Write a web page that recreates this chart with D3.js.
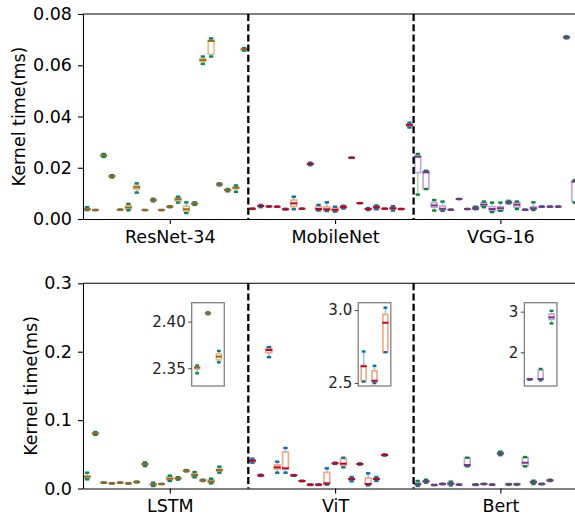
<!DOCTYPE html>
<html>
<head>
<meta charset="utf-8">
<script src="https://cdn.jsdelivr.net/npm/d3@7"></script>
<style>
  body { margin: 0; background: #fff; }
  svg { display: block; font-family: "DejaVu Sans", sans-serif; }
</style>
</head>
<body>
<div id="chart"></div>
<script>
//Datos: [bigote inf, q1, mediana, q3, bigote sup] por kernel
const topLabels = ['ResNet-34', 'MobileNet', 'VGG-16'];
const bottomLabels = ['LSTM', 'ViT', 'Bert'];
const topTicks = [0, 0.02, 0.04, 0.06, 0.08];
const bottomTicks = [0, 0.1, 0.2, 0.3];

const resnet = [
  [0.0035, 0.0036, 0.0038, 0.0041, 0.0046], [0.0035, 0.0035, 0.0035, 0.0035, 0.0035],
  [0.0242, 0.0245, 0.0248, 0.0250, 0.0254], [0.0162, 0.0165, 0.0167, 0.0168, 0.0171],
  [0.0036, 0.0036, 0.0036, 0.0036, 0.0036], [0.0034, 0.0040, 0.0045, 0.0052, 0.0059],
  [0.0103, 0.0116, 0.0124, 0.0131, 0.0139], [0.0035, 0.0035, 0.0035, 0.0035, 0.0035],
  [0.0069, 0.0072, 0.0074, 0.0076, 0.0079], [0.0035, 0.0035, 0.0035, 0.0035, 0.0035],
  [0.0046, 0.0047, 0.0048, 0.0049, 0.0050], [0.0064, 0.0070, 0.0077, 0.0083, 0.0087],
  [0.0023, 0.0030, 0.0038, 0.0050, 0.0065], [0.0055, 0.0058, 0.0060, 0.0062, 0.0065],
  [0.0605, 0.0614, 0.0620, 0.0625, 0.0634], [0.0634, 0.0643, 0.0695, 0.0698, 0.0705],
  [0.0131, 0.0133, 0.0135, 0.0137, 0.0139], [0.0108, 0.0111, 0.0113, 0.0115, 0.0117],
  [0.0106, 0.0118, 0.0122, 0.0125, 0.0131], [0.0657, 0.0660, 0.0662, 0.0664, 0.0667]
];
const mobilenet = [
  [0.0039, 0.0040, 0.0040, 0.0040, 0.0041], [0.0046, 0.0049, 0.0051, 0.0052, 0.0055],
  [0.0049, 0.0049, 0.0049, 0.0049, 0.0049], [0.0048, 0.0048, 0.0048, 0.0048, 0.0048],
  [0.0037, 0.0038, 0.0038, 0.0039, 0.0040], [0.0038, 0.0048, 0.0061, 0.0074, 0.0087],
  [0.0040, 0.0040, 0.0040, 0.0040, 0.0040], [0.0210, 0.0213, 0.0215, 0.0217, 0.0220],
  [0.0033, 0.0035, 0.0039, 0.0048, 0.0055], [0.0031, 0.0033, 0.0038, 0.0048, 0.0065],
  [0.0029, 0.0030, 0.0036, 0.0043, 0.0048], [0.0041, 0.0042, 0.0047, 0.0051, 0.0052],
  [0.0239, 0.0239, 0.0239, 0.0239, 0.0239], [0.0062, 0.0062, 0.0062, 0.0062, 0.0062],
  [0.0035, 0.0037, 0.0039, 0.0041, 0.0043], [0.0038, 0.0039, 0.0046, 0.0051, 0.0053],
  [0.0040, 0.0040, 0.0040, 0.0040, 0.0040], [0.0033, 0.0038, 0.0042, 0.0045, 0.0050],
  [0.0039, 0.0039, 0.0039, 0.0039, 0.0039], [0.0357, 0.0362, 0.0367, 0.0371, 0.0376]
];
const vgg = [
  [0.0095, 0.0181, 0.0243, 0.0246, 0.0254], [0.0117, 0.0117, 0.0182, 0.0187, 0.0188],
  [0.0033, 0.0046, 0.0053, 0.0064, 0.0074], [0.0032, 0.0035, 0.0040, 0.0051, 0.0068],
  [0.0036, 0.0036, 0.0036, 0.0036, 0.0036], [0.0078, 0.0078, 0.0078, 0.0078, 0.0078],
  [0.0039, 0.0039, 0.0039, 0.0039, 0.0039], [0.0038, 0.0038, 0.0042, 0.0048, 0.0048],
  [0.0046, 0.0049, 0.0056, 0.0064, 0.0068], [0.0027, 0.0032, 0.0039, 0.0048, 0.0064],
  [0.0032, 0.0032, 0.0042, 0.0048, 0.0064], [0.0061, 0.0061, 0.0065, 0.0069, 0.0071],
  [0.0039, 0.0046, 0.0056, 0.0064, 0.0068], [0.0036, 0.0036, 0.0036, 0.0036, 0.0036],
  [0.0035, 0.0038, 0.0042, 0.0048, 0.0065], [0.0048, 0.0048, 0.0048, 0.0048, 0.0048],
  [0.0048, 0.0048, 0.0048, 0.0048, 0.0048], [0.0048, 0.0048, 0.0048, 0.0048, 0.0048],
  [0.0705, 0.0707, 0.0709, 0.0711, 0.0713], [0.0064, 0.0068, 0.0146, 0.0146, 0.0152]
];

const lstm = [
  [0.0134, 0.0148, 0.0173, 0.0183, 0.0231], [0.0785, 0.0795, 0.0806, 0.0815, 0.0826],
  [0.0085, 0.0085, 0.0085, 0.0085, 0.0085], [0.0075, 0.0075, 0.0075, 0.0075, 0.0075],
  [0.0085, 0.0085, 0.0085, 0.0085, 0.0085], [0.0075, 0.0075, 0.0075, 0.0075, 0.0075],
  [0.0088, 0.0092, 0.0095, 0.0098, 0.0102], [0.0327, 0.0345, 0.0358, 0.0368, 0.0382],
  [0.0036, 0.0051, 0.0061, 0.0068, 0.0085], [0.0066, 0.0066, 0.0066, 0.0066, 0.0066],
  [0.0110, 0.0124, 0.0144, 0.0173, 0.0187], [0.0130, 0.0140, 0.0148, 0.0156, 0.0165],
  [0.0250, 0.0255, 0.0260, 0.0265, 0.0270], [0.0163, 0.0173, 0.0197, 0.0221, 0.0241],
  [0.0110, 0.0115, 0.0119, 0.0123, 0.0128], [0.0075, 0.0085, 0.0105, 0.0134, 0.0144],
  [0.0231, 0.0255, 0.0270, 0.0285, 0.0319]
];
const vit = [
  [0.0378, 0.0393, 0.0407, 0.0417, 0.0436], [0.0182, 0.0187, 0.0192, 0.0197, 0.0202],
  [0.1920, 0.1985, 0.2024, 0.2052, 0.2067], [0.0231, 0.0285, 0.0309, 0.0343, 0.0392],
  [0.0231, 0.0290, 0.0295, 0.0533, 0.0592], [0.0187, 0.0190, 0.0192, 0.0195, 0.0197],
  [0.0105, 0.0108, 0.0110, 0.0112, 0.0115], [0.0051, 0.0054, 0.0056, 0.0058, 0.0061],
  [0.0051, 0.0054, 0.0056, 0.0058, 0.0061], [0.0056, 0.0066, 0.0075, 0.0236, 0.0295],
  [0.0358, 0.0363, 0.0368, 0.0373, 0.0378], [0.0309, 0.0338, 0.0363, 0.0436, 0.0450],
  [0.0105, 0.0125, 0.0139, 0.0148, 0.0168], [0.0348, 0.0353, 0.0358, 0.0363, 0.0368],
  [0.0046, 0.0056, 0.0066, 0.0153, 0.0222], [0.0110, 0.0130, 0.0139, 0.0150, 0.0168],
  [0.0480, 0.0485, 0.0490, 0.0495, 0.0500]
];
const bert = [
  [0.0037, 0.0051, 0.0066, 0.0080, 0.0110], [0.0085, 0.0095, 0.0105, 0.0114, 0.0129],
  [0.0051, 0.0051, 0.0051, 0.0051, 0.0051], [0.0061, 0.0063, 0.0066, 0.0069, 0.0071],
  [0.0046, 0.0061, 0.0071, 0.0085, 0.0100], [0.0056, 0.0056, 0.0056, 0.0056, 0.0056],
  [0.0324, 0.0329, 0.0343, 0.0446, 0.0451], [0.0051, 0.0054, 0.0056, 0.0058, 0.0061],
  [0.0063, 0.0065, 0.0066, 0.0068, 0.0070], [0.0056, 0.0056, 0.0056, 0.0056, 0.0056],
  [0.0487, 0.0500, 0.0514, 0.0527, 0.0539], [0.0056, 0.0058, 0.0061, 0.0063, 0.0066],
  [0.0056, 0.0058, 0.0061, 0.0063, 0.0066], [0.0324, 0.0334, 0.0377, 0.0450, 0.0460],
  [0.0066, 0.0080, 0.0095, 0.0105, 0.0114], [0.0061, 0.0064, 0.0066, 0.0068, 0.0071],
  [0.0110, 0.0115, 0.0119, 0.0123, 0.0128]
];

//Kernels largos > se dibujan en los recuadros
const lstmInset = [
  [2.3446, 2.3493, 2.3507, 2.3518, 2.3529],
  [2.4080, 2.4085, 2.4089, 2.4093, 2.4100],
  [2.3564, 2.3590, 2.3625, 2.3654, 2.3686]
];
const vitInset = [
  [2.510, 2.515, 2.615, 2.620, 2.716],
  [2.500, 2.507, 2.516, 2.584, 2.618],
  [2.711, 2.711, 2.913, 2.970, 3.016]
];
const bertInset = [
  [1.330, 1.333, 1.335, 1.337, 1.340],
  [1.310, 1.335, 1.340, 1.565, 1.590],
  [2.710, 2.810, 2.860, 2.940, 3.020]
];
const lstmInsetTicks = [2.35, 2.40];
const vitInsetTicks = [2.5, 3.0];
const bertInsetTicks = [2, 3];

//Colores (BrBG, RdBu, PRGn de 4 clases): mediana, caja, bigote, tope
const PAL_BRBG = ['#a6611a', '#dfc27d', '#80cdc1', '#018571'],
  PAL_RDBU = ['#ca0020', '#f4a582', '#92c5de', '#0571b0'],
  PAL_PRGN = ['#7b3294', '#c2a5cf', '#a6dba0', '#008837'];

const W = 575, H = 515, FONT = 17.5;

let svg = d3.select('#chart').append('svg')
  .attr('width', W).attr('height', H);

let x = d3.scaleLinear().domain([0.5, 60.5]).range([83, 83 + 60 * 8.265]);

function drawBox(g, xs, ys, cx, d, pal, bw) {
  let [lo, q1, med, q3, hi] = d;
  let capW = bw * 0.75;
  g.append('line').attr('x1', cx).attr('x2', cx).attr('y1', ys(hi)).attr('y2', ys(q3))
    .attr('stroke', pal[2]).attr('stroke-width', 1.5);
  g.append('line').attr('x1', cx).attr('x2', cx).attr('y1', ys(q1)).attr('y2', ys(lo))
    .attr('stroke', pal[2]).attr('stroke-width', 1.5);
  g.append('rect').attr('x', cx - bw / 2).attr('width', bw)
    .attr('y', ys(q3)).attr('height', Math.max(0, ys(q1) - ys(q3)))
    .attr('fill', 'none').attr('stroke', pal[1]).attr('stroke-width', 1.6);
  [lo, hi].forEach(function(v) {
    g.append('line').attr('x1', cx - capW / 2).attr('x2', cx + capW / 2)
      .attr('y1', ys(v)).attr('y2', ys(v))
      .attr('stroke', pal[3]).attr('stroke-width', 2.4);
  });
  g.append('line').attr('x1', cx - bw / 2 - 0.5).attr('x2', cx + bw / 2 + 0.5)
    .attr('y1', ys(med)).attr('y2', ys(med))
    .attr('stroke', pal[0]).attr('stroke-width', 2);
}

function styleAxis(g, size) {
  g.selectAll('text').attr('font-size', size).attr('font-family', '"DejaVu Sans", sans-serif').attr('fill', '#000');
  g.selectAll('line').attr('stroke', '#000').attr('stroke-width', 1.1);
  g.select('.domain').attr('stroke', '#000').attr('stroke-width', 1.1);
}

function drawPanel(top, bottom, yMax, ticks, fmt, labels, series, maxPos, insets, ylabX) {
  let y = d3.scaleLinear().domain([0, yMax]).range([bottom, top]);
  let g = svg.append('g');

  //Cajas
  let pals = [PAL_BRBG, PAL_RDBU, PAL_PRGN];
  series.forEach(function(s, i) {
    s.forEach(function(d, j) {
      drawBox(g, x, y, x(i * 20 + j + 1), d, pals[i], 0.7 * 8.265);
    });
  });

  //Separadores
  [20.5, 40.5].forEach(function(p) {
    g.append('line').attr('x1', x(p)).attr('x2', x(p)).attr('y1', top).attr('y2', bottom)
      .attr('stroke', '#000').attr('stroke-width', 2.3).attr('stroke-dasharray', '7,3.2');
  });

  //Marco
  g.append('line').attr('x1', x(0.5)).attr('x2', x(60.5)).attr('y1', top).attr('y2', top)
    .attr('stroke', '#000').attr('stroke-width', 1.1);

  let ya = g.append('g').attr('transform', 'translate(' + x(0.5) + ',0)')
    .call(d3.axisLeft(y).tickValues(ticks).tickFormat(d3.format(fmt)).tickSize(5).tickSizeOuter(0).tickPadding(6));
  styleAxis(ya, FONT);

  let xa = g.append('g').attr('transform', 'translate(0,' + bottom + ')')
    .call(d3.axisBottom(x).tickValues([11, 31, 51]).tickFormat(function(d, i) { return labels[i]; })
      .tickSize(5).tickSizeOuter(0).tickPadding(6.5));
  styleAxis(xa, FONT);

  g.append('text')
    .attr('transform', 'translate(' + ylabX + ',' + (top + bottom) / 2 + ') rotate(-90)')
    .attr('text-anchor', 'middle').attr('font-size', FONT)
    .text('Kernel time(ms)');

  //Recuadros
  if (insets) {
    insets.forEach(function(ins, i) {
      let ix = d3.scaleLinear().domain([0.5, 3.5]).range([x(ins.from), x(ins.from) + 32.6]);
      let iy = d3.scaleLinear().domain(ins.dom).range([386, 302.7]);
      let ig = g.append('g');
      ig.append('rect').attr('x', ix(0.5)).attr('y', 302.7)
        .attr('width', ix(3.5) - ix(0.5)).attr('height', 386 - 302.7)
        .attr('fill', '#fff').attr('stroke', '#808080').attr('stroke-width', 1.3);
      ins.data.forEach(function(d, j) {
        drawBox(ig, ix, iy, ix(j + 1), d, pals[i], 0.46 * 10.87);
      });
      let ia = ig.append('g').attr('transform', 'translate(' + ix(0.5) + ',0)')
        .call(d3.axisLeft(iy).tickValues(ins.ticks).tickFormat(d3.format(ins.fmt))
          .tickSize(3.5).tickSizeOuter(0).tickPadding(2.5));
      ia.select('.domain').remove();
      ia.selectAll('text').attr('font-size', 15).attr('font-family', '"DejaVu Sans", sans-serif').attr('fill', '#222');
      ia.selectAll('line').attr('stroke', '#444').attr('stroke-width', 1);
    });
  }
}

drawPanel(14, 219, 0.08, topTicks, '.2f', topLabels, [resnet, mobilenet, vgg], 20, null, 25);
drawPanel(283.3, 488.5, 0.3, bottomTicks, '.1f', bottomLabels, [lstm, vit, bert], 17, [
  { from: 13.65, dom: [2.331, 2.4203], data: lstmInset, ticks: lstmInsetTicks, fmt: '.2f' },
  { from: 33.8, dom: [2.48, 3.05], data: vitInset, ticks: vitInsetTicks, fmt: '.1f' },
  { from: 53.9, dom: [1.17, 3.22], data: bertInset, ticks: bertInsetTicks, fmt: 'd' }
], 36.5);
</script>
</body>
</html>
